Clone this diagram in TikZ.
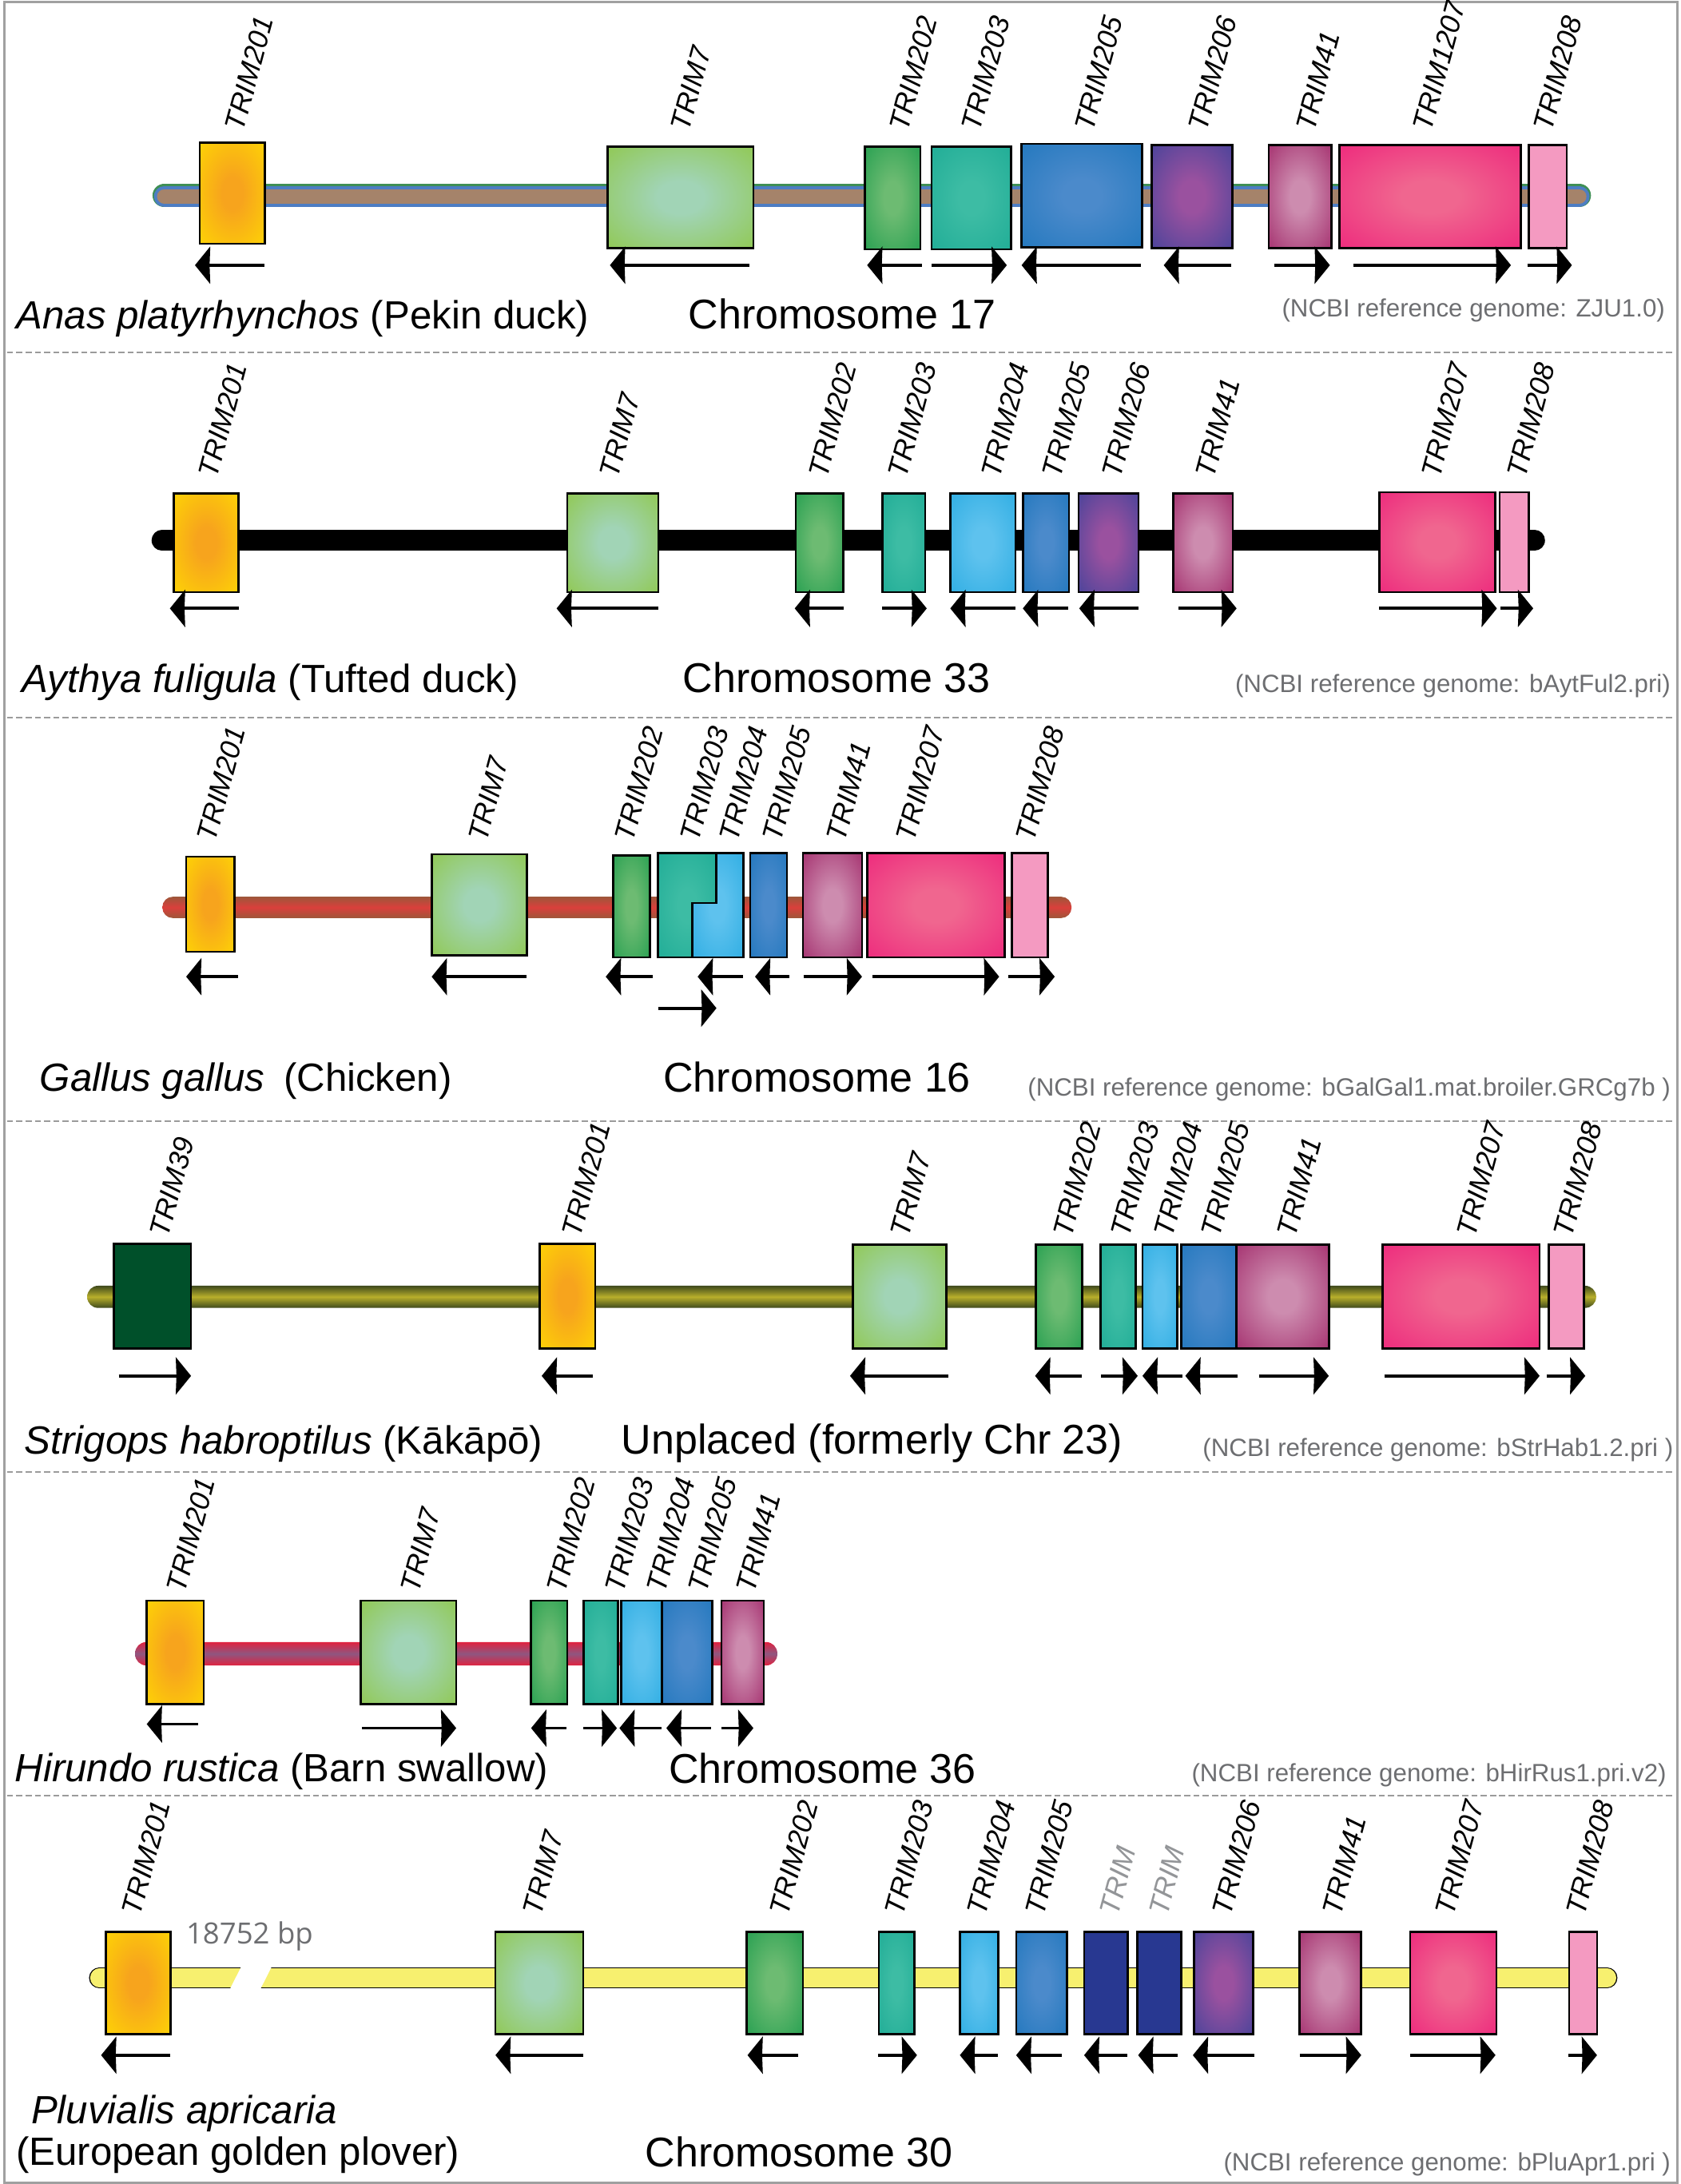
\documentclass[tikz,border=0pt]{standalone}
\usepackage{fontspec}
\setmainfont{Liberation Sans}
\newfontfamily\osans{Open Sans}
\definecolor{framegray}{HTML}{A0A0A0}
\definecolor{sepgray}{HTML}{9B9B9B}
\definecolor{ncbigray}{HTML}{6D6E71}
\definecolor{trimgray}{HTML}{939598}
\definecolor{c201o}{HTML}{FFDD00}\definecolor{c201i}{HTML}{F7A41D}
\definecolor{c7o}{HTML}{8DC63F}\definecolor{c7i}{HTML}{A1D4B6}
\definecolor{c202o}{HTML}{1A9B4B}\definecolor{c202i}{HTML}{6DBB72}
\definecolor{c203o}{HTML}{1BAA94}\definecolor{c203i}{HTML}{3DBCA4}
\definecolor{c204o}{HTML}{27AAE1}\definecolor{c204i}{HTML}{5EC2EE}
\definecolor{c205o}{HTML}{1C75BC}\definecolor{c205i}{HTML}{4B8ACB}
\definecolor{c206o}{HTML}{3A4199}\definecolor{c206i}{HTML}{9A519F}
\definecolor{c41o}{HTML}{9D2063}\definecolor{c41i}{HTML}{CD8CAF}
\definecolor{c207o}{HTML}{ED1E79}\definecolor{c207i}{HTML}{F0668F}
\definecolor{c208}{HTML}{F49AC1}
\definecolor{c39}{HTML}{00502A}
\definecolor{cnavy}{HTML}{283891}
\definecolor{bbrown}{HTML}{A5836A}\definecolor{bblue}{HTML}{4D7DC3}\definecolor{bgreen}{HTML}{3F8F55}
\definecolor{cbrown}{HTML}{9E563A}\definecolor{cred}{HTML}{DA3F3B}
\definecolor{kdark}{HTML}{3F4A1C}\definecolor{kolive}{HTML}{B8AF2B}
\definecolor{hred}{HTML}{E0223F}\definecolor{hpurp}{HTML}{8F5680}
\definecolor{pyel}{HTML}{F7F06F}
\colorlet{gin}{white}\colorlet{gout}{black}
\pgfdeclareradialshading[gin,gout]{generad}{\pgfpoint{0bp}{0bp}}{color(0bp)=(gin); color(8bp)=(gin); color(42bp)=(gout); color(100bp)=(gout)}
\newcommand\genebox[6]{\colorlet{gin}{#5}\colorlet{gout}{#6}\shade[shading=generad] (#1,#2) rectangle (#3,#4);\draw[boxline] (#1,#2) rectangle (#3,#4);}
\newcommand\arrL[3]{\draw[arrline] (#1+6,#3) -- (#2,#3);\fill (#1,#3) -- (#1+11,#3-13.5) -- (#1+10.5,#3) -- (#1+11,#3+13.5) -- cycle;}
\newcommand\arrR[3]{\draw[arrline] (#1,#3) -- (#2-6,#3);\fill (#2,#3) -- (#2-11,#3-13.5) -- (#2-10.5,#3) -- (#2-11,#3+13.5) -- cycle;}
\begin{document}
\begin{tikzpicture}[x=0.017423cm,y=-0.017423cm,
  boxline/.style={draw=black,line width=0.75pt},
  arrline/.style={line width=1.1pt},
  glabel/.style={font=\fontsize{10.1}{12}\selectfont\itshape,rotate=75,anchor=west,inner sep=0pt},
  species/.style={font=\fontsize{14.0}{17}\selectfont,anchor=base west,inner sep=0pt},
  chrom/.style={font=\fontsize{14.8}{17}\selectfont,anchor=base west,inner sep=0pt},
  ncbi/.style={font=\fontsize{8.9}{10}\selectfont,text=ncbigray,anchor=base east,inner sep=0pt},
  sepline/.style={draw=sepgray,line width=0.6pt,dash pattern=on 2.2pt off 1.1pt}]
\useasboundingbox (0,0) rectangle (1207,1568);
\draw[draw=framegray,line width=0.85pt] (3,1.2) rectangle (1204.5,1567);
% separators
\foreach \yy in {253,515,805,1057,1289} \draw[sepline] (5,\yy) -- (1203,\yy);

% ================= Panel 1: Anas platyrhynchos
\draw[bgreen,line width=8.4pt,line cap=round] (118,140.4) -- (1134,140.4);
\draw[bblue,line width=7.4pt,line cap=round] (118,141) -- (1134,141);
\draw[bbrown,line width=5.2pt,line cap=round] (118,141) -- (1134,141);
\genebox{143.5}{102.4}{190.3}{175}{c201i}{c201o}
\genebox{436.3}{105.2}{541}{178.3}{c7i}{c7o}
\genebox{621}{105.2}{661}{178.9}{c202i}{c202o}
\genebox{669}{105.2}{726}{178.9}{c203i}{c203o}
\genebox{733.6}{103.3}{820}{177.5}{c205i}{c205o}
\genebox{827}{104.3}{885}{178}{c206i}{c206o}
\genebox{911}{104.3}{956}{178}{c41i}{c41o}
\genebox{962}{104.3}{1092}{178}{c207i}{c207o}
\genebox{1098}{104.3}{1125}{178}{c208}{c208}
\arrL{140}{190}{190.4}
\arrL{438}{538}{190.4}
\arrL{622.7}{662}{190.4}
\arrR{669}{723}{190.4}
\arrL{733.6}{819}{190.4}
\arrL{835.7}{884}{190.4}
\arrR{915}{955}{190.4}
\arrR{971.7}{1085}{190.4}
\arrR{1096.8}{1128.8}{190.4}
\node[glabel] (a201) at (168,93.7) {TRIM201};
\node[glabel] (a7) at (488,93.7) {TRIM7};
\node[glabel] (a202) at (645,93.7) {TRIM202};
\node[glabel] (a203) at (697,93.7) {TRIM203};
\node[glabel] (a205) at (778,93.7) {TRIM205};
\node[glabel] (a206) at (860,93.7) {TRIM206};
\node[glabel] (a41) at (937,93.7) {TRIM41};
\node[glabel] (a1207) at (1021,93.7) {TRIM1207};
\node[glabel] (a208) at (1107.6,93.7) {TRIM208};
\node[species] (asp) at (11.5,236.3) {\textit{Anas platyrhynchos} (Pekin duck)};
\node[chrom] (achr) at (494,236.3) {Chromosome 17};
\node[ncbi] (ancbi) at (1196,227.7) {(NCBI reference genome: ZJU1.0)};

% ================= Panel 2: Aythya fuligula
\draw[black,line width=7.4pt,line cap=round] (116.3,388) -- (1102,388);
\genebox{124.9}{354.3}{171.4}{425.1}{c201i}{c201o}
\genebox{407.4}{354.3}{472.8}{425.1}{c7i}{c7o}
\genebox{571.5}{354.3}{605.6}{425.1}{c202i}{c202o}
\genebox{633.5}{354.3}{664.4}{425.1}{c203i}{c203o}
\genebox{682.4}{354.3}{729.1}{425.1}{c204i}{c204o}
\genebox{734.5}{354.3}{767.6}{425.1}{c205i}{c205o}
\genebox{774.5}{354.3}{817.6}{425.1}{c206i}{c206o}
\genebox{842.4}{354.3}{885.2}{425.1}{c41i}{c41o}
\genebox{990.4}{353.4}{1073.7}{425.1}{c207i}{c207o}
\genebox{1076.8}{353.4}{1098}{425.1}{c208}{c208}
\arrL{122}{171.4}{436.8}
\arrL{399.7}{473}{436.8}
\arrL{570.7}{605.6}{436.8}
\arrR{633.5}{665.5}{436.8}
\arrL{682.4}{729}{436.8}
\arrL{734.5}{767}{436.8}
\arrL{775}{817.6}{436.8}
\arrR{846.2}{888}{436.8}
\arrR{990.4}{1074.9}{436.8}
\arrR{1077.4}{1101}{436.8}
\node[glabel] (b201) at (149,342.5) {TRIM201};
\node[glabel] (b7) at (437,342.5) {TRIM7};
\node[glabel] (b202) at (587,342.5) {TRIM202};
\node[glabel] (b203) at (644,342.5) {TRIM203};
\node[glabel] (b204) at (711,342.5) {TRIM204};
\node[glabel] (b205) at (755,342.5) {TRIM205};
\node[glabel] (b206) at (798,342.5) {TRIM206};
\node[glabel] (b41) at (865,342.5) {TRIM41};
\node[glabel] (b207) at (1027,342.5) {TRIM207};
\node[glabel] (b208) at (1088.5,342.5) {TRIM208};
\node[species] (bsp) at (15.4,497.4) {\textit{Aythya fuligula} (Tufted duck)};
\node[chrom] (bchr) at (490,497.4) {Chromosome 33};
\node[ncbi] (bncbi) at (1200,497) {(NCBI reference genome: bAytFul2.pri)};

% ================= Panel 3: Gallus gallus
\shade[top color=cbrown,bottom color=cbrown,middle color=cred,rounded corners=3.7pt] (116.6,643.8) rectangle (769.5,659.1);
\genebox{133.7}{615}{168.3}{683.4}{c201i}{c201o}
\genebox{310}{613.2}{378.4}{685.9}{c7i}{c7o}
\genebox{440.2}{614}{466.6}{687.4}{c202i}{c202o}
\colorlet{gin}{c203i}\colorlet{gout}{c203o}
\shade[shading=generad] (472.3,612.6) -- (514.5,612.6) -- (514.5,648.2) -- (497,648.2) -- (497,687.4) -- (472.3,687.4) -- cycle;
\colorlet{gin}{c204i}\colorlet{gout}{c204o}
\shade[shading=generad] (514.5,612.6) -- (533.7,612.6) -- (533.7,687.4) -- (497,687.4) -- (497,648.2) -- (514.5,648.2) -- cycle;
\draw[boxline] (472.3,612.6) rectangle (533.7,687.4);
\draw[boxline] (514.5,612.6) -- (514.5,648.2) -- (497,648.2) -- (497,687.4);
\genebox{538.8}{612.6}{565.2}{687.4}{c205i}{c205o}
\genebox{576.5}{612.6}{619}{687.4}{c41i}{c41o}
\genebox{622.6}{612.6}{721.5}{687.4}{c207i}{c207o}
\genebox{726.6}{612.6}{752.3}{687.4}{c208}{c208}
\arrL{133.7}{171.2}{701.2}
\arrL{310}{377.9}{701.2}
\arrL{435}{469}{701.2}
\arrL{501}{533.7}{701.2}
\arrL{542.2}{567}{701.2}
\arrR{577}{619}{701.2}
\arrR{626.7}{717.5}{701.2}
\arrR{724}{757.4}{701.2}
\arrR{472.8}{514.5}{723.8}
\node[glabel] (c201) at (148,603.6) {TRIM201};
\node[glabel] (c7) at (342.7,603.6) {TRIM7};
\node[glabel] (c202) at (448,603.6) {TRIM202};
\node[glabel] (c203) at (495,603.6) {TRIM203};
\node[glabel] (c204) at (523,603.6) {TRIM204};
\node[glabel] (c205) at (554,603.6) {TRIM205};
\node[glabel] (c41) at (600,603.6) {TRIM41};
\node[glabel] (c207) at (650,603.6) {TRIM207};
\node[glabel] (c208) at (736,603.6) {TRIM208};
\node[species] (csp) at (28.2,783.4) {\textit{Gallus gallus}\hspace{0.2em} (Chicken)};
\node[chrom] (cchr) at (476,784) {Chromosome 16};
\node[ncbi] (cncbi) at (1200,787) {(NCBI reference genome: bGalGal1.mat.broiler.GRCg7b )};

% ================= Panel 4: Strigops habroptilus
\shade[top color=kdark,bottom color=kdark,middle color=kolive,rounded corners=3.9pt] (62.6,923.1) rectangle (1146.2,939);
\genebox{81.9}{893}{137.2}{968}{c39}{c39}
\genebox{387.4}{893}{427.4}{968}{c201i}{c201o}
\genebox{612.3}{893.5}{679.7}{968}{c7i}{c7o}
\genebox{744}{893.5}{777}{968}{c202i}{c202o}
\genebox{790.3}{893.5}{815.4}{968}{c203i}{c203o}
\genebox{820.4}{893.5}{845.5}{968}{c204i}{c204o}
\genebox{848.2}{893.5}{888}{968}{c205i}{c205o}
\genebox{888}{893.5}{954.5}{968}{c41i}{c41o}
\genebox{993}{893.5}{1105.6}{968}{c207i}{c207o}
\genebox{1112.2}{893.5}{1137.3}{968}{c208}{c208}
\arrR{85.3}{137.2}{987.8}
\arrL{389}{425.9}{987.8}
\arrL{610.4}{680.9}{987.8}
\arrL{743.3}{777}{987.8}
\arrR{790.5}{817}{987.8}
\arrL{820.4}{849.3}{987.8}
\arrL{851.2}{888.7}{987.8}
\arrR{904}{954.2}{987.8}
\arrR{994}{1105.6}{987.8}
\arrR{1110.6}{1138.4}{987.8}
\node[glabel] (d39) at (114,887.7) {TRIM39};
\node[glabel] (d201) at (410,887.7) {TRIM201};
\node[glabel] (d7) at (646,887.7) {TRIM7};
\node[glabel] (d202) at (762.5,887.7) {TRIM202};
\node[glabel] (d203) at (804,887.7) {TRIM203};
\node[glabel] (d204) at (835,887.7) {TRIM204};
\node[glabel] (d205) at (869,887.7) {TRIM205};
\node[glabel] (d41) at (923.5,887.7) {TRIM41};
\node[glabel] (d207) at (1052.7,887.7) {TRIM207};
\node[glabel] (d208) at (1122,887.7) {TRIM208};
\node[species] (dsp) at (17.3,1043.6) {\textit{Strigops habroptilus} (Kākāpō)};
\node[chrom] (dchr) at (445.8,1043.6) {Unplaced (formerly Chr 23)};
\node[ncbi] (dncbi) at (1202,1045.6) {(NCBI reference genome: bStrHab1.2.pri )};

% ================= Panel 5: Hirundo rustica
\shade[top color=hred,bottom color=hred,middle color=hpurp,rounded corners=4pt] (97,1178.9) rectangle (558.2,1195.7);
\genebox{105.4}{1149.2}{146.4}{1223.5}{c201i}{c201o}
\genebox{259.2}{1149.2}{327.6}{1223.5}{c7i}{c7o}
\genebox{381.4}{1149.2}{407.4}{1223.5}{c202i}{c202o}
\genebox{419.1}{1149.2}{443.7}{1223.5}{c203i}{c203o}
\genebox{445.9}{1149.2}{475.2}{1223.5}{c204i}{c204o}
\genebox{475.2}{1149.2}{511.4}{1223.5}{c205i}{c205o}
\genebox{518}{1149.2}{548.4}{1223.5}{c41i}{c41o}
\arrL{105.4}{142}{1237.8}
\arrR{260}{327.6}{1240.7}
\arrL{381.4}{407}{1240.7}
\arrR{419.1}{443}{1240.7}
\arrL{444.8}{474.8}{1240.7}
\arrL{478.5}{510.7}{1240.7}
\arrR{518}{541}{1240.7}
\node[glabel] (e201) at (126,1143) {TRIM201};
\node[glabel] (e7) at (294,1143) {TRIM7};
\node[glabel] (e202) at (399,1143) {TRIM202};
\node[glabel] (e203) at (441,1143) {TRIM203};
\node[glabel] (e204) at (471,1143) {TRIM204};
\node[glabel] (e205) at (500.6,1143) {TRIM205};
\node[glabel] (e41) at (535,1143) {TRIM41};
\node[species] (esp) at (10.3,1279) {\textit{Hirundo rustica} (Barn swallow)};
\node[chrom] (echr) at (480,1280) {Chromosome 36};
\node[ncbi] (encbi) at (1197,1279) {(NCBI reference genome: bHirRus1.pri.v2)};

% ================= Panel 6: Pluvialis apricaria
\draw[black,line width=7.4pt,line cap=round] (71.4,1420) -- (1154,1420);
\draw[pyel,line width=6.6pt,line cap=round] (71.4,1420) -- (1154,1420);
\fill[white] (164.7,1428.8) -- (173.6,1411.2) -- (195.5,1411.2) -- (186.6,1428.8) -- cycle;
\node[anchor=base west,inner sep=0pt,text=ncbigray,font=\osans\fontsize{10.4}{12}\selectfont] (fbp) at (133.3,1395.7) {18752 bp};
\genebox{76.2}{1387}{122.4}{1460.3}{c201i}{c201o}
\genebox{355.8}{1387}{418.8}{1460.3}{c7i}{c7o}
\genebox{536.3}{1387}{576.5}{1460.3}{c202i}{c202o}
\genebox{631}{1387}{656.7}{1460.3}{c203i}{c203o}
\genebox{689.3}{1387}{716.9}{1460.3}{c204i}{c204o}
\genebox{729.7}{1387}{766.1}{1460.3}{c205i}{c205o}
\genebox{778.5}{1387}{809.9}{1460.3}{cnavy}{cnavy}
\genebox{816.7}{1387}{848.1}{1460.3}{cnavy}{cnavy}
\genebox{857.3}{1387}{899.9}{1460.3}{c206i}{c206o}
\genebox{933}{1387}{977.5}{1460.3}{c41i}{c41o}
\genebox{1012.7}{1387}{1074.5}{1460.3}{c207i}{c207o}
\genebox{1126.8}{1387}{1146.8}{1460.3}{c208}{c208}
\arrL{72.6}{122.4}{1475.5}
\arrL{355.8}{418.8}{1475.5}
\arrL{536.8}{573}{1475.5}
\arrR{630.5}{658.5}{1475.5}
\arrL{689.3}{716.4}{1475.5}
\arrL{729.7}{762.4}{1475.5}
\arrL{778.5}{809.3}{1475.5}
\arrL{817.3}{845.4}{1475.5}
\arrL{856.6}{901}{1475.5}
\arrR{933.4}{977.5}{1475.5}
\arrR{1012.7}{1073.9}{1475.5}
\arrR{1126.2}{1146.8}{1475.5}
\node[glabel] (f201) at (94,1374.6) {TRIM201};
\node[glabel] (f7) at (382,1374.6) {TRIM7};
\node[glabel] (f202) at (559,1374.6) {TRIM202};
\node[glabel] (f203) at (642,1374.6) {TRIM203};
\node[glabel] (f204) at (701,1374.6) {TRIM204};
\node[glabel] (f205) at (742.5,1374.6) {TRIM205};
\node[glabel,text=trimgray] (fg1) at (796,1374.6) {TRIM};
\node[glabel,text=trimgray] (fg2) at (831.4,1374.6) {TRIM};
\node[glabel] (f206) at (877,1374.6) {TRIM206};
\node[glabel] (f41) at (956,1374.6) {TRIM41};
\node[glabel] (f207) at (1037,1374.6) {TRIM207};
\node[glabel] (f208) at (1131,1374.6) {TRIM208};
\node[species] (fsp) at (22,1524.8) {\textit{Pluvialis apricaria}};
\node[species] (fsp2) at (11.1,1554.5) {(European golden plover)};
\node[chrom] (fchr) at (463,1555.4) {Chromosome 30};
\node[ncbi] (fncbi) at (1200,1558.3) {(NCBI reference genome: bPluApr1.pri )};
\end{tikzpicture}
\end{document}
